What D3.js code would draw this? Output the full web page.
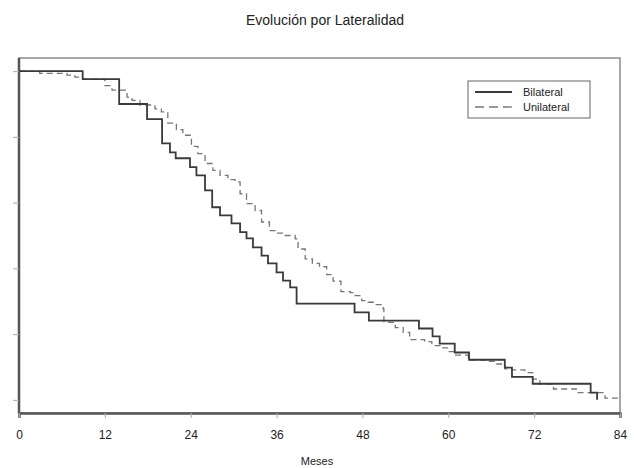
<!DOCTYPE html>
<html>
<head>
<meta charset="utf-8">
<script src="https://cdn.jsdelivr.net/npm/d3@7"></script>
<style>
  body { margin: 0; background: #fff; }
  svg { display: block; }
  text { font-family: "Liberation Sans", Arial, sans-serif; fill: #222; }
</style>
</head>
<body>
<div id="graph"></div>
<script>
// Kaplan-Meier steps (months, survival)
const bilateralMonths = [0, 8.9, 14.0, 17.9, 20.0, 21.1, 21.9, 23.9, 24.8, 26.0, 27.0, 28.1, 29.7, 30.9,
  31.8, 32.7, 33.9, 34.8, 36.0, 36.9, 37.9, 38.8, 46.9, 48.9, 55.9, 57.8, 58.8, 60.9, 62.9, 67.9, 68.9,
  71.8, 79.9, 80.8]
const bilateralSurv = [1.0, 0.976, 0.900, 0.854, 0.780, 0.753, 0.735, 0.708, 0.683, 0.637, 0.586, 0.561,
  0.537, 0.510, 0.491, 0.464, 0.439, 0.415, 0.388, 0.363, 0.342, 0.293, 0.266, 0.241, 0.217, 0.193,
  0.171, 0.144, 0.122, 0.098, 0.070, 0.049, 0.022, 0.0]

const unilateralMonths = [0, 2.9, 6.7, 7.8, 8.9, 12.0, 13.0, 15.1, 15.8, 16.9, 19.0, 19.9, 20.8, 22.0,
  22.9, 24.1, 25.0, 26.0, 27.1, 28.1, 29.2, 30.2, 30.9, 31.8, 33.0, 33.9, 35.0, 36.0, 36.9, 38.6, 39.0,
  40.0, 41.0, 42.0, 43.0, 43.9, 45.0, 46.3, 47.0, 47.9, 48.8, 49.8, 50.9, 51.0, 52.6, 53.7, 54.6, 56.7,
  57.7, 59.1, 60.0, 60.9, 62.8, 65.4, 66.8, 67.9, 68.9, 70.7, 71.8, 72.8, 74.7, 77.9, 81.9, 84]
const unilateralSurv = [1.0, 0.993, 0.988, 0.982, 0.976, 0.956, 0.942, 0.921, 0.911, 0.897, 0.885, 0.876,
  0.842, 0.822, 0.805, 0.771, 0.749, 0.719, 0.698, 0.683, 0.670, 0.663, 0.627, 0.597, 0.576, 0.541,
  0.515, 0.507, 0.500, 0.490, 0.459, 0.429, 0.415, 0.405, 0.381, 0.361, 0.329, 0.326, 0.317, 0.302,
  0.297, 0.290, 0.277, 0.236, 0.220, 0.205, 0.183, 0.177, 0.165, 0.158, 0.147, 0.136, 0.121, 0.117,
  0.109, 0.094, 0.091, 0.083, 0.063, 0.048, 0.033, 0.022, 0.005, 0.005]

const xTicks = [0, 12, 24, 36, 48, 60, 72, 84]
const yTicks = [0, 0.2, 0.4, 0.6, 0.8, 1.0]
const seriesNames = ['Bilateral', 'Unilateral']

const W = 634, H = 468
const margin = { top: 58, right: 14, bottom: 55, left: 19 }

const svg = d3.select('#graph')
  .append('svg')
  .attr('width', W)
  .attr('height', H)

const x = d3.scaleLinear().domain([0, 84]).range([margin.left, W - margin.right])
const y = d3.scaleLinear().domain([-0.04, 1.04]).range([H - margin.bottom, margin.top])

// Title
svg.append('text')
  .attr('x', 325).attr('y', 25)
  .attr('text-anchor', 'middle')
  .style('font-size', '14px')
  .text('Evolución por Lateralidad')

// Frame
svg.append('rect')
  .attr('x', x(0)).attr('y', y(1.04))
  .attr('width', x(84) - x(0)).attr('height', y(-0.04) - y(1.04))
  .attr('fill', 'none').attr('stroke', '#8a8a8a').attr('stroke-width', 1.5)

// X axis
const xAxis = svg.append('g')
  .attr('transform', 'translate(0,' + y(-0.04) + ')')
  .call(d3.axisBottom(x).tickValues(xTicks).tickSize(5).tickPadding(12).tickFormat(d3.format('d')))
xAxis.select('.domain').attr('stroke', '#555').attr('stroke-width', 2.5)
xAxis.selectAll('.tick line').attr('stroke', '#aaa')
xAxis.selectAll('.tick text').style('font-size', '12px').attr('fill', '#222')

// Y axis (ticks only, no labels)
const yAxis = svg.append('g')
  .attr('transform', 'translate(' + x(0) + ',0)')
  .call(d3.axisLeft(y).tickValues(yTicks).tickSize(6).tickFormat(''))
yAxis.select('.domain').attr('d', 'M0,' + y(1.04) + 'V' + y(-0.04)).attr('stroke', '#555').attr('stroke-width', 2.5)
yAxis.selectAll('.tick line').attr('stroke', '#aaa')

// X label
svg.append('text')
  .attr('x', 317).attr('y', 465)
  .attr('text-anchor', 'middle')
  .style('font-size', '11px')
  .text('Meses')

const step = d3.line()
  .x(d => x(d[0]))
  .y(d => y(d[1]))
  .curve(d3.curveStepAfter)

// Unilateral (dashed)
svg.append('path')
  .datum(d3.zip(unilateralMonths, unilateralSurv))
  .attr('fill', 'none')
  .attr('stroke', '#777')
  .attr('stroke-width', 1.3)
  .attr('stroke-dasharray', '6,4')
  .attr('d', step)

// Bilateral (solid)
svg.append('path')
  .datum(d3.zip(bilateralMonths, bilateralSurv))
  .attr('fill', 'none')
  .attr('stroke', '#3a3a3a')
  .attr('stroke-width', 1.8)
  .attr('d', step)

// Legend
const legend = svg.append('g')
legend.append('rect')
  .attr('x', 468).attr('y', 81).attr('width', 122).attr('height', 37)
  .attr('fill', '#fff').attr('stroke', '#666').attr('stroke-width', 1)
seriesNames.forEach(function (name, i) {
  const ly = 92 + i * 15
  legend.append('line')
    .attr('x1', 475).attr('x2', 512).attr('y1', ly).attr('y2', ly)
    .attr('stroke', i === 0 ? '#3a3a3a' : '#777')
    .attr('stroke-width', i === 0 ? 1.8 : 1.3)
    .attr('stroke-dasharray', i === 0 ? null : '9,5')
  legend.append('text')
    .attr('x', 523).attr('y', ly + 4)
    .style('font-size', '11px')
    .text(name)
})
</script>
</body>
</html>
